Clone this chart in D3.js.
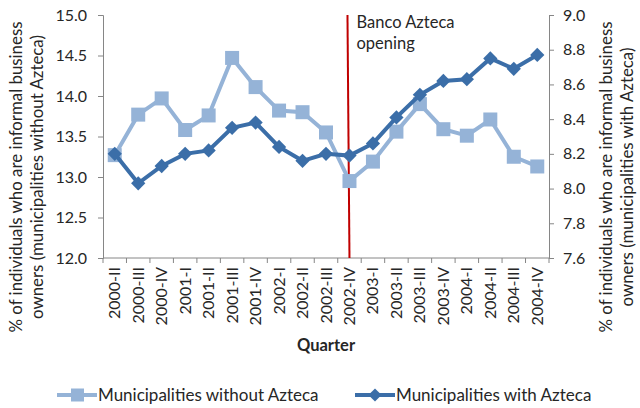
<!DOCTYPE html>
<html>
<head>
<meta charset="utf-8">
<script src="https://cdn.jsdelivr.net/npm/d3@7"></script>
<style>
  body { margin: 0; background: #fff; }
  svg text { font-family: Lato, 'Open Sans', sans-serif; fill: #262626; }
  .axis path, .axis line { stroke: #868686; }
</style>
</head>
<body>
<div id="chart"></div>
<script>
// quarters on the x axis
const quarters = ['2000-II', '2000-III', '2000-IV', '2001-I', '2001-II', '2001-III', '2001-IV',
  '2002-I', '2002-II', '2002-III', '2002-IV', '2003-I', '2003-II', '2003-III', '2003-IV',
  '2004-I', '2004-II', '2004-III', '2004-IV'];

// left axis series
const withoutAzteca = [13.27, 13.77, 13.97, 13.58, 13.76, 14.47, 14.11, 13.82, 13.80, 13.55,
  12.95, 13.19, 13.56, 13.90, 13.59, 13.51, 13.71, 13.25, 13.13];

// right axis series
const withAzteca = [8.20, 8.03, 8.13, 8.20, 8.22, 8.35, 8.38, 8.24, 8.16, 8.20,
  8.19, 8.26, 8.41, 8.54, 8.62, 8.63, 8.75, 8.69, 8.77];

const leftTicks = [12.0, 12.5, 13.0, 13.5, 14.0, 14.5, 15.0];
const rightTicks = [7.6, 7.8, 8.0, 8.2, 8.4, 8.6, 8.8, 9.0];
const eventQuarter = '2002-IV';

const W = 640, H = 408;
const margin = { top: 15, right: 91, bottom: 150, left: 103 };
const width = W - margin.left - margin.right;
const height = H - margin.top - margin.bottom;

const lightBlue = '#95b3d7';
const darkBlue = '#3b6ea8';

const svg = d3.select('#chart').append('svg')
  .attr('width', W).attr('height', H);

const chart = svg.append('g')
  .attr('transform', `translate(${margin.left},${margin.top})`);

const x = d3.scaleBand().domain(quarters).range([0, width]);
const yLeft = d3.scaleLinear().domain([12, 15]).range([height, 0]);
const yRight = d3.scaleLinear().domain([7.6, 9.0]).range([height, 0]);
const cx = d => x(d) + x.bandwidth() / 2;

// axes
const leftAxis = chart.append('g').attr('class', 'axis')
  .call(d3.axisLeft(yLeft).tickValues(leftTicks).tickFormat(d3.format('.1f')).tickSize(5).tickPadding(11));
const rightAxis = chart.append('g').attr('class', 'axis')
  .attr('transform', `translate(${width},0)`)
  .call(d3.axisRight(yRight).tickValues(rightTicks).tickFormat(d3.format('.1f')).tickSize(5).tickPadding(9));
[leftAxis, rightAxis].forEach(a => a.selectAll('text').style('font-size', '16px').attr('fill', '#262626'));

const xAxis = chart.append('g').attr('class', 'axis')
  .attr('transform', `translate(0,${height})`);
xAxis.append('line').attr('x1', 0).attr('x2', width).attr('stroke', '#868686');
xAxis.selectAll('.tk').data(d3.range(quarters.length + 1)).enter()
  .append('line')
  .attr('x1', i => i * x.step()).attr('x2', i => i * x.step())
  .attr('y1', 0).attr('y2', 5).attr('stroke', '#868686');
xAxis.selectAll('.lbl').data(quarters).enter()
  .append('text')
  .attr('transform', d => `translate(${cx(d) + 5.5},9) rotate(-90)`)
  .attr('text-anchor', 'end')
  .style('font-size', '16px')
  .text(d => d);

// event line
chart.append('line')
  .attr('x1', cx(eventQuarter) - 2).attr('x2', cx(eventQuarter))
  .attr('y1', 0).attr('y2', height)
  .attr('stroke', '#c00000').attr('stroke-width', 2);
chart.append('text')
  .attr('x', cx(eventQuarter) + 7).attr('y', 13)
  .style('font-size', '16.5px')
  .selectAll('tspan').data(['Banco Azteca', 'opening']).enter()
  .append('tspan')
  .attr('x', cx(eventQuarter) + 7)
  .attr('dy', (d, i) => i ? 21 : 0)
  .text(d => d);

// series
const lineLeft = d3.line().x((d, i) => cx(quarters[i])).y(d => yLeft(d));
const lineRight = d3.line().x((d, i) => cx(quarters[i])).y(d => yRight(d));

chart.append('path').datum(withoutAzteca)
  .attr('d', lineLeft).attr('fill', 'none')
  .attr('stroke', lightBlue).attr('stroke-width', 4);
chart.selectAll('.sq').data(withoutAzteca).enter()
  .append('rect')
  .attr('x', (d, i) => cx(quarters[i]) - 7).attr('y', d => yLeft(d) - 7)
  .attr('width', 14).attr('height', 14)
  .attr('fill', lightBlue);

chart.append('path').datum(withAzteca)
  .attr('d', lineRight).attr('fill', 'none')
  .attr('stroke', darkBlue).attr('stroke-width', 4);
const diamond = d3.symbol().type(d3.symbolDiamond2).size(130);
chart.selectAll('.dm').data(withAzteca).enter()
  .append('path')
  .attr('d', diamond)
  .attr('transform', (d, i) => `translate(${cx(quarters[i])},${yRight(d)})`)
  .attr('fill', darkBlue);

// axis titles
svg.append('text')
  .attr('x', 326).attr('y', 351)
  .attr('text-anchor', 'middle')
  .style('font-size', '16.5px').style('font-weight', 'bold')
  .text('Quarter');

// two-line rotated title, sized so the first line spans about 311px
const titleBlock = (xPos, lines) => {
  const t = svg.append('text')
    .attr('transform', `translate(${xPos},177) rotate(-90)`)
    .attr('text-anchor', 'middle')
    .style('font-size', '16px');
  const spans = t.selectAll('tspan').data(lines).enter()
    .append('tspan')
    .attr('x', 0).attr('dy', (d, i) => i ? 21 : 0)
    .text(d => d);
  const len = spans.nodes()[0].getComputedTextLength();
  if (len > 0) t.style('font-size', (16 * 311 / len).toFixed(2) + 'px');
};
titleBlock(22, ['% of individuals who are informal business', 'owners (municipalities without Azteca)']);
titleBlock(612, ['% of individuals who are informal business', 'owners (municipalities with Azteca)']);

// legend
const legend = svg.append('g').attr('transform', 'translate(0,401)');
const items = [
  { label: 'Municipalities without Azteca', color: lightBlue, x: 57, sym: 'square' },
  { label: 'Municipalities with Azteca', color: darkBlue, x: 355, sym: 'diamond' }
];
items.forEach(it => {
  legend.append('line')
    .attr('x1', it.x).attr('x2', it.x + 40).attr('y1', -6).attr('y2', -6)
    .attr('stroke', it.color).attr('stroke-width', 4);
  if (it.sym === 'square') {
    legend.append('rect').attr('x', it.x + 14).attr('y', -12.5).attr('width', 13).attr('height', 13)
      .attr('fill', it.color);
  } else {
    legend.append('path').attr('d', d3.symbol().type(d3.symbolDiamond2).size(110))
      .attr('transform', `translate(${it.x + 20},-6)`).attr('fill', it.color);
  }
  legend.append('text').attr('x', it.x + 41).attr('y', 0)
    .style('font-size', '17px').text(it.label);
});
</script>
</body>
</html>
